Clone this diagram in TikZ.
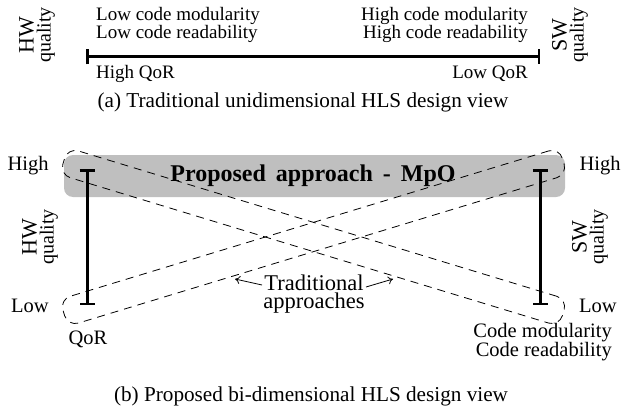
\documentclass[tikz,border=0pt]{standalone}
\usepackage{fontspec}
\setmainfont{Liberation Serif}
\usetikzlibrary{arrows.meta}
\begin{document}
\begin{tikzpicture}[x=1pt,y=-1pt,
  txt/.style={inner sep=0pt, font=\fontsize{19}{18}\selectfont},
  txtb/.style={inner sep=0pt, font=\fontsize{20.5}{17}\selectfont},
  captext/.style={inner sep=0pt, font=\fontsize{21.2}{21}\selectfont},
  qual/.style={inner sep=0pt, rotate=90, align=center, font=\fontsize{20}{17}\selectfont},
  axisline/.style={line width=3pt, {Bar[width=15pt,line width=2.5pt]}-{Bar[width=15pt,line width=2.5pt]}},
  stadium/.style={draw, dashed, line width=0.8pt, dash pattern=on 8pt off 6pt, rounded corners=11pt, minimum width=522pt, minimum height=28pt, inner sep=0pt},
  pointer/.style={line width=0.8pt, -{To[length=5pt,width=8pt]}}
]
\useasboundingbox (0,0) rectangle (629,412);

% ---------- (a) ----------
\coordinate (a1) at (86,57);
\coordinate (a2) at (540,57);
\draw[axisline] (a1) -- (a2);
\node[qual] (hwa) at (37,35) {{\fontsize{22}{17}\selectfont HW}\\quality};
\node[qual] (swa) at (570,35) {{\fontsize{22}{17}\selectfont SW}\\quality};
\node[txt, align=left, anchor=west] (lowcode) at (96,25) {Low code modularity\\Low code readability};
\node[txt, align=right, anchor=east] (highcode) at (528,25) {High code modularity\\High code readability};
\node[txt, anchor=west] (highqor) at (96,74) {High QoR};
\node[txt, anchor=east] (lowqor) at (528,74) {Low QoR};
\node[captext] (capa) at (303,102) {(a) Traditional unidimensional HLS design view};

% ---------- (b) ----------
\node[fill=black!25, rounded corners=9pt, minimum width=501pt, minimum height=42pt, inner sep=0pt] (mpo) at (314.5,176) {};
\node[inner sep=0pt, font=\fontsize{24}{24}\selectfont\bfseries] (mpotext) at (313,176) {Proposed\, approach\, -\, MpO};

\coordinate (hwhi) at (87,169);
\coordinate (hwlo) at (87,305);
\coordinate (swhi) at (540,169);
\coordinate (swlo) at (540,305);

\node[stadium, rotate=-16.9] (trad1) at (313.5,237) {};
\node[stadium, rotate=16.9] (trad2) at (313.5,237) {};

\draw[axisline] (hwhi) -- (hwlo);
\draw[axisline] (swhi) -- (swlo);

\node[txtb] (highl) at (28,166) {High};
\node[txtb] (highr) at (600,166) {High};
\node[txtb] (lowl) at (30,306) {Low};
\node[txtb] (lowr) at (598,306) {Low};
\node[qual] (hwb) at (40,237) {{\fontsize{22}{17}\selectfont HW}\\quality};
\node[qual] (swb) at (590,237) {{\fontsize{22}{17}\selectfont SW}\\quality};
\node[txtb] (qor) at (88,339) {QoR};
\node[txtb, align=right, anchor=east] (codeq) at (612,342) {Code modularity\\Code readability};
\node[inner sep=0pt, align=center, font=\fontsize{22.5}{18.5}\selectfont] (tradtxt) at (314,294) {Traditional\\approaches};
\coordinate (srcl) at (262,285);
\coordinate (srcr) at (366,287);
\coordinate (tipl) at (235,279);
\coordinate (tipr) at (393,279);
\draw[pointer] (srcl) -- (tipl);
\draw[pointer] (srcr) -- (tipr);

\node[captext] (capb) at (311,396) {(b) Proposed bi-dimensional HLS design view};
\end{tikzpicture}
\end{document}
